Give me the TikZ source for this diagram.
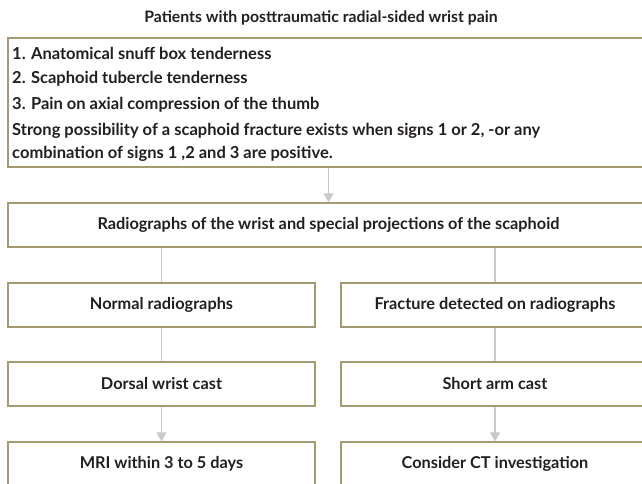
\documentclass[tikz,border=0pt]{standalone}
\usepackage{fontspec}
\setmainfont{Lato}
\usepackage{xcolor}
\usepackage{tikz}
\usetikzlibrary{positioning,arrows.meta,calc}
\definecolor{bOlive}{HTML}{A39A72}
\definecolor{cGray}{HTML}{C9C9C9}
\definecolor{tDark}{HTML}{231F20}

\begin{document}
\begin{tikzpicture}[x=1pt,y=-1pt,
  box/.style={draw=bOlive,line width=1.3pt,fill=white,inner sep=0pt,
    minimum height=44pt,text=tDark,font=\fontsize{16.3}{19}\selectfont\bfseries},
  txt/.style={anchor=west,inner sep=0pt,text=tDark,font=\fontsize{16.5}{19}\selectfont\bfseries},
  conn/.style={cGray,line width=1.2pt},
  arr/.style={conn,-{Triangle[width=10pt,length=9pt]}}
]
\useasboundingbox (0,0) rectangle (642,483);
\clip (0,0) rectangle (642,483);

\node[txt,anchor=center,font=\fontsize{15.8}{19}\selectfont\bfseries] (title) at (321,18) {Patients with posttraumatic radial-sided wrist pain};

% signs box
\node[box,minimum width=641pt,minimum height=129pt] (signs) at (328.5,102.5) {};
\node[txt] (s1) at (12,53) {1. Anatomical snuff box tenderness};
\node[txt] (s2) at (12,79) {2. Scaphoid tubercle tenderness};
\node[txt] (s3) at (12,105) {3. Pain on axial compression of the thumb};
\node[txt] (s4) at (12,131) {Strong possibility of a scaphoid fracture exists when signs 1 or 2, -or any};
\node[txt] (s5) at (12,154) {combination of signs 1 ,2 and 3 are positive.};

\node[box,minimum width=641pt] (xray) at (328.5,225) {Radiographs of the wrist and special projections of the scaphoid};

\node[box,minimum width=307pt] (normal) at (161.5,305) {Normal radiographs};
\node[box,minimum width=308pt] (fract) at (495,305) {Fracture detected on radiographs};

\node[box,minimum width=307pt] (dorsal) at (161.5,384) {Dorsal wrist cast};
\node[box,minimum width=308pt] (short) at (495,384) {Short arm cast};

\node[box,minimum width=307pt] (mri) at (161.5,464) {MRI within 3 to 5 days};
\node[box,minimum width=308pt] (ct) at (495,464) {Consider CT investigation};

% connectors
\draw[arr] (signs) -- (xray);
\draw[conn] (normal.north |- xray.south) -- (normal);
\draw[conn] (fract.north |- xray.south) -- (fract);
\draw[conn] (normal) -- (dorsal);
\draw[conn] (fract) -- (short);
\draw[arr] (dorsal) -- (mri);
\draw[arr] (short) -- (ct);
\end{tikzpicture}
\end{document}
